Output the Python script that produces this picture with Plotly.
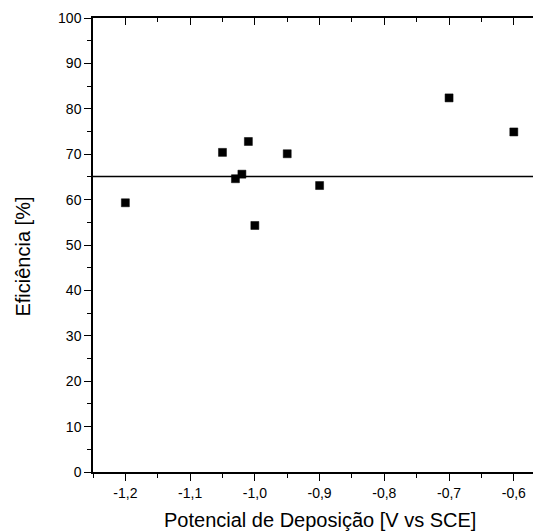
import plotly.graph_objects as go

# Data
potencial = [-1.20, -1.05, -1.03, -1.02, -1.01, -1.00, -0.95, -0.90, -0.70, -0.60]
eficiencia = [59.3, 70.4, 64.6, 65.6, 72.8, 54.3, 70.1, 63.1, 82.4, 74.9]
linha_ref = 65.1

x_tickvals = [-1.2, -1.1, -1.0, -0.9, -0.8, -0.7, -0.6]
x_ticktext = ["-1,2", "-1,1", "-1,0", "-0,9", "-0,8", "-0,7", "-0,6"]
y_tickvals = [0, 10, 20, 30, 40, 50, 60, 70, 80, 90, 100]
y_ticktext = [str(v) for v in y_tickvals]

x_range = [-1.25, -0.558]
y_range = [0, 100]

FONT = "Liberation Sans, Arial, sans-serif"

fig = go.Figure()
fig.add_trace(go.Scatter(
    x=potencial, y=eficiencia, mode="markers",
    marker=dict(symbol="square", size=8, color="black",
                line=dict(width=0.5, color="black")),
    showlegend=False, hoverinfo="skip",
))
# empty trace to activate mirrored axes
fig.add_trace(go.Scatter(x=[], y=[], xaxis="x2", yaxis="y2", showlegend=False))

fig.add_hline(y=linha_ref, line=dict(color="black", width=1.5))

axis_common = dict(showline=True, linecolor="black", linewidth=1.5,
                   showgrid=False, zeroline=False, tickcolor="black",
                   tickwidth=1.2)

# page body has an 8px margin, so the figure is offset by (8, 8)
fig.update_layout(
    width=533, height=523,
    margin=dict(l=84.5, r=0, t=10, b=58.5),
    paper_bgcolor="white", plot_bgcolor="white",
    font=dict(family=FONT, color="black", size=14),
    xaxis=dict(range=x_range, tickmode="array", tickvals=x_tickvals,
               ticktext=x_ticktext, ticks="outside", ticklen=7,
               minor=dict(tick0=-1.25, dtick=0.05, ticks="outside", ticklen=4,
                          tickcolor="black", tickwidth=1.2, showgrid=False),
               tickfont=dict(size=14, family=FONT), **axis_common),
    yaxis=dict(range=y_range, tickmode="array", tickvals=y_tickvals,
               ticktext=y_ticktext, ticks="outside", ticklen=7,
               minor=dict(tick0=0, dtick=5, ticks="outside", ticklen=4,
                          tickcolor="black", tickwidth=1.2, showgrid=False),
               tickfont=dict(size=14, family=FONT), **axis_common),
    xaxis2=dict(overlaying="x", side="top", matches="x", range=x_range,
                tickmode="array", tickvals=x_tickvals, showticklabels=False,
                ticks="inside", ticklen=7,
                minor=dict(tick0=-1.25, dtick=0.05, ticks="inside", ticklen=4,
                           tickcolor="black", tickwidth=1.2, showgrid=False),
                **axis_common),
    yaxis2=dict(overlaying="y", side="right", matches="y", range=y_range,
                tickmode="array", tickvals=y_tickvals, showticklabels=False,
                ticks="inside", ticklen=7, showline=False, showgrid=False,
                zeroline=False, tickcolor="black", tickwidth=1.2),
    annotations=[
        dict(text="Potencial de Deposição [V vs SCE]", xref="paper", yref="paper",
             x=0.5066, y=-0.1056, xanchor="center", yanchor="middle",
             showarrow=False, font=dict(size=20, family=FONT)),
        dict(text="Eficiência [%]", xref="paper", yref="paper",
             x=-0.156, y=0.4748, xanchor="center", yanchor="middle",
             textangle=-90, showarrow=False, font=dict(size=20, family=FONT)),
    ],
)

fig.write_html("out.html")
